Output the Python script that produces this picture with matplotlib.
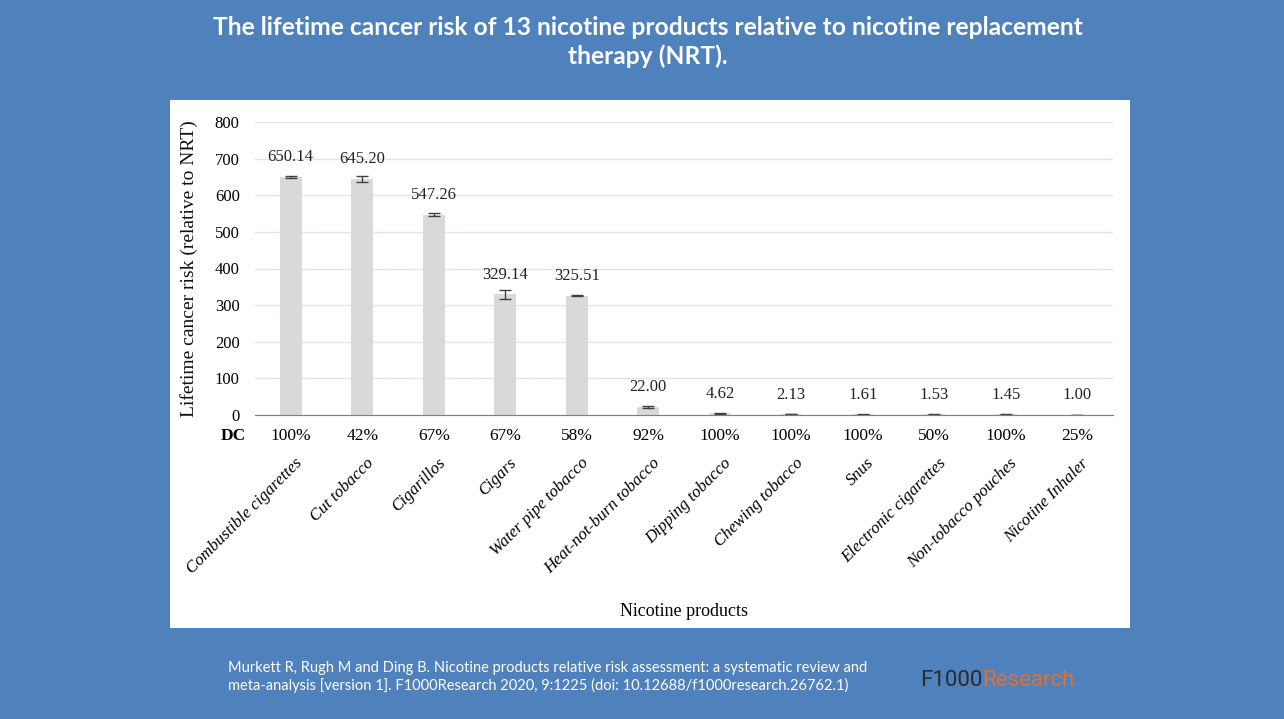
import numpy as np
import matplotlib.pyplot as plt
from matplotlib.patches import Rectangle

# data
products = ["Combustible cigarettes", "Cut tobacco", "Cigarillos", "Cigars",
            "Water pipe tobacco", "Heat-not-burn tobacco", "Dipping tobacco",
            "Chewing tobacco", "Snus", "Electronic cigarettes",
            "Non-tobacco pouches", "Nicotine Inhaler"]
risk = [650.14, 645.20, 547.26, 329.14, 325.51, 22.00, 4.62, 2.13, 1.61, 1.53, 1.45, 1.00]
risk_err = [2.0, 8.0, 5.0, 12.0, 1.0, 3.0, 1.0, 0.5, 0.5, 0.5, 0.5, 0.0]
dc = ["100%", "42%", "67%", "67%", "58%", "92%", "100%", "100%", "100%", "50%", "100%", "25%"]

BLUE = "#4F81BD"
serif = "Liberation Serif"

fig = plt.figure(figsize=(12.84, 7.19), dpi=100)
fig.patch.set_facecolor(BLUE)

# white panel holding the chart
fig.add_artist(Rectangle((170 / 1284, 1 - 628 / 719), 960 / 1284, 528 / 719,
                         transform=fig.transFigure, facecolor="white",
                         edgecolor="none", zorder=0))

ax = fig.add_axes([255 / 1284, 1 - 415 / 719, 858 / 1284, 293 / 719])
ax.set_facecolor("white")

x = np.arange(len(products))
ax.bar(x, risk, width=0.31, color="#D9D9D9", zorder=2)
ax.errorbar(x, risk, yerr=risk_err, fmt="none", ecolor="#404040",
            elinewidth=1.0, capsize=4, capthick=1.0, zorder=3)

for xi, v in zip(x, risk):
    ax.annotate(f"{v:.2f}", (xi, v), xytext=(0, 14), textcoords="offset points",
                ha="center", va="center", fontsize=12, family=serif,
                color="#222222")

ax.set_xlim(-0.5, len(products) - 0.5)
ax.set_ylim(0, 800)
ax.set_yticks(np.arange(0, 801, 100))
ax.grid(axis="y", color="#DCE6F0", linewidth=1.0, zorder=0)
ax.set_axisbelow(True)
for s in ["top", "right", "left"]:
    ax.spines[s].set_visible(False)
ax.spines["bottom"].set_color("#7F7F7F")
ax.spines["bottom"].set_zorder(4)
ax.tick_params(axis="y", length=0, pad=11, labelsize=12)
ax.tick_params(axis="x", length=0, labelbottom=False)
for lbl in ax.get_yticklabels():
    lbl.set_family(serif)
ax.set_ylabel("Lifetime cancer risk (relative to NRT)", family=serif,
              fontsize=14, labelpad=12, color="#111111")

# DC row under the axis (offsets in points below the baseline)
trans = ax.get_xaxis_transform()
ax.annotate("DC", (-0.81, 0), xycoords=trans, xytext=(0, -15),
            textcoords="offset points", ha="center", va="center",
            fontsize=12.5, family=serif, weight="bold", annotation_clip=False)
for xi, d in zip(x, dc):
    ax.annotate(d, (xi, 0), xycoords=trans, xytext=(0, -15),
                textcoords="offset points", ha="center", va="center",
                fontsize=12.5, family=serif, annotation_clip=False)

# rotated category labels
for xi, name in zip(x, products):
    ax.annotate(name, (xi + 0.13, 0), xycoords=trans, xytext=(0, -33),
                textcoords="offset points", ha="right", va="center",
                rotation=45, rotation_mode="anchor", fontsize=12.2,
                family=serif, style="italic", annotation_clip=False)

fig.text(684 / 1284, 1 - 612 / 719, "Nicotine products", ha="center",
         va="center", fontsize=13, family=serif)

# title
fig.text(648 / 1284, 1 - 42 / 719,
         "The lifetime cancer risk of 13 nicotine products relative to nicotine replacement\ntherapy (NRT).",
         ha="center", va="center", fontsize=17.7, weight="bold", color="white",
         family="Lato", linespacing=1.3)

# footer
fig.text(228 / 1284, 1 - 677 / 719,
         "Murkett R, Rugh M and Ding B. Nicotine products relative risk assessment: a systematic review and\n"
         "meta-analysis [version 1]. F1000Research 2020, 9:1225 (doi: 10.12688/f1000research.26762.1)",
         ha="left", va="center", fontsize=10.5, color="white", family="Lato",
         linespacing=1.25)
logo = fig.text(920 / 1284, 1 - 681 / 719, "F1000", ha="left", va="center",
                fontsize=16, color="#2B2B2B", family="Roboto")
ax.annotate("Research", xy=(1, 0.5), xycoords=logo, ha="left", va="center",
            fontsize=16, color="#E2722B", family="Roboto",
            annotation_clip=False)

fig.savefig("out.png", dpi=100, facecolor=BLUE)
plt.close(fig)
